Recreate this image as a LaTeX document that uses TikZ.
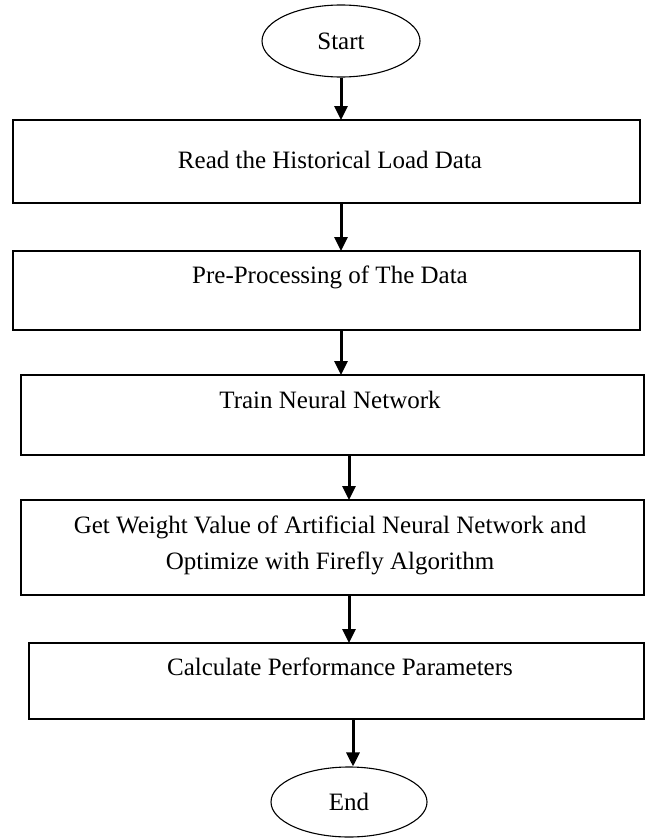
\documentclass[tikz,border=0pt]{standalone}
\usepackage{fontspec}
\setmainfont{Liberation Serif}
\usetikzlibrary{arrows.meta,shapes.geometric}
\begin{document}
\begin{tikzpicture}[x=1pt,y=-1pt,
  procbox/.style={draw=black,line width=1.5pt,fill=white},
  term/.style={draw=black,line width=1.1pt,ellipse},
  lbl/.style={font=\fontsize{25}{30}\selectfont,inner sep=0pt},
  flow/.style={line width=3pt,-{Triangle[length=14pt,width=13pt]}}]
\useasboundingbox (0,0) rectangle (645,838);
% terminals
\node[term,minimum width=158pt,minimum height=72pt] (start) at (341,41) {};
\node[lbl] (starttxt) at (341,41) {Start};
\node[term,minimum width=156pt,minimum height=70pt] (end) at (349,802) {};
\node[lbl] (endtxt) at (349,802) {End};
% boxes
\draw[procbox] (13,120) rectangle (640,203);
\coordinate (b1t) at (341,120);
\coordinate (b1b) at (341,203);
\node[lbl] (t1) at (330,160) {Read the Historical Load Data};
\draw[procbox] (13,251) rectangle (640,330);
\coordinate (b2t) at (341,251);
\coordinate (b2b) at (341,330);
\node[lbl] (t2) at (330,277) {Pre-Processing of The Data};
\draw[procbox] (21,375) rectangle (644,455);
\coordinate (b3t) at (341,375);
\coordinate (b3b) at (349,455);
\node[lbl] (t3) at (330,400) {Train Neural Network};
\draw[procbox] (21,500) rectangle (644,595);
\coordinate (b4t) at (349,500);
\coordinate (b4b) at (349,595);
\node[lbl] (t4a) at (330,527) {Get Weight Value of Artificial Neural Network and};
\node[lbl] (t4b) at (330,563) {Optimize with Firefly Algorithm};
\draw[procbox] (29,643) rectangle (644,719);
\coordinate (b5t) at (349,643);
\coordinate (b5b) at (353,719);
\node[lbl] (t5) at (340,667) {Calculate Performance Parameters};
% arrows
\draw[flow] (start.south) -- (b1t);
\draw[flow] (b1b) -- (b2t);
\draw[flow] (b2b) -- (b3t);
\draw[flow] (b3b) -- (b4t);
\draw[flow] (b4b) -- (b5t);
\draw[flow] (b5b) -- (end.north -| b5b);
\end{tikzpicture}
\end{document}
